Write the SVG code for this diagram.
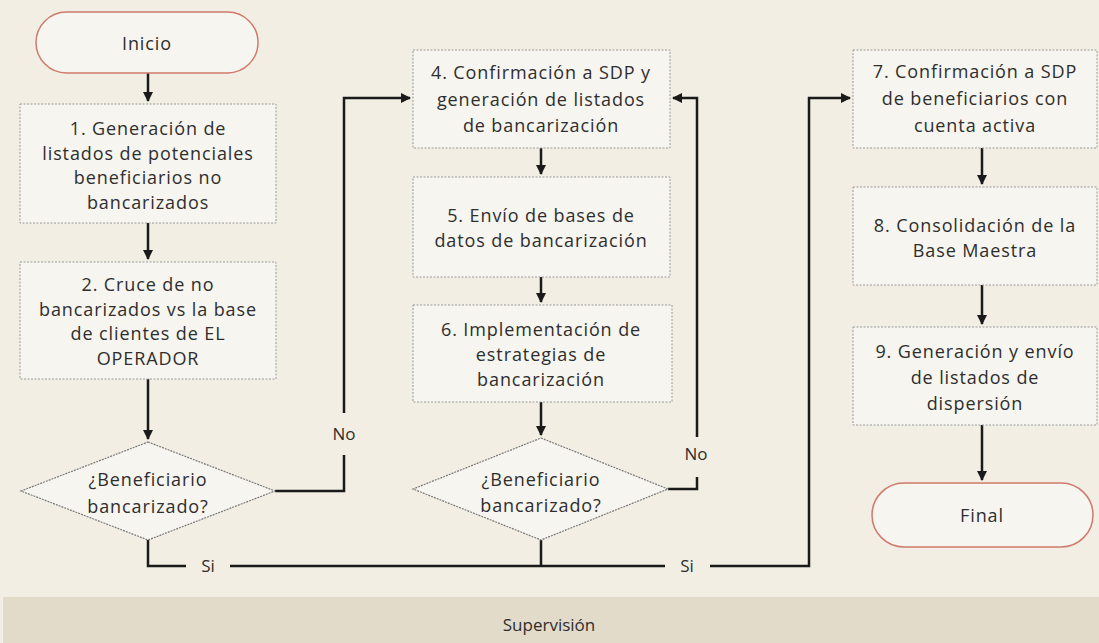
<svg xmlns="http://www.w3.org/2000/svg" width="1099" height="643" viewBox="0 0 1099 643">
<defs>
<style>
text{font-family:"Open Sans","Liberation Sans",sans-serif;font-size:18px;letter-spacing:0.9px;fill:#2e2e2e;text-anchor:middle;dominant-baseline:central}
.lbl{font-size:17px;letter-spacing:0}
.box{fill:#f7f5ef;stroke:#9a9a9a;stroke-width:1;stroke-dasharray:2 1.5}
.term{fill:#f7f5ef;stroke:#cf7a6c;stroke-width:1.5}
.dia{fill:#f7f5ef;stroke:#7a7a7a;stroke-width:1.2;stroke-dasharray:2 1}
.ln{fill:none;stroke:#1a1a1a;stroke-width:2.5}
</style>
<marker id="ah" viewBox="0 0 10 10" refX="9" refY="5" markerWidth="4" markerHeight="4" orient="auto-start-reverse">
<path d="M0,0 L10,5 L0,10 z" fill="#1a1a1a"/>
</marker>
</defs>
<rect width="1099" height="643" fill="#f2eee3"/>
<rect x="3" y="597" width="1096" height="46" fill="#e2dbc9"/>
<text class="lbl" x="549" y="624">Supervisión</text>

<g id="connectors">
<line class="ln" x1="148" y1="73" x2="148" y2="101" marker-end="url(#ah)"/>
<line class="ln" x1="148" y1="223" x2="148" y2="259" marker-end="url(#ah)"/>
<line class="ln" x1="148" y1="379" x2="148" y2="439" marker-end="url(#ah)"/>
<polyline class="ln" points="275,491 344,491 344,455"/>
<polyline class="ln" points="344,413 344,98 410,98" marker-end="url(#ah)"/>
<polyline class="ln" points="148,540 148,566 186,566"/>
<line class="ln" x1="230" y1="566" x2="665" y2="566"/>
<line class="ln" x1="541" y1="540" x2="541" y2="566"/>
<polyline class="ln" points="710,566 809,566 809,98 850,98" marker-end="url(#ah)"/>
<line class="ln" x1="541" y1="148" x2="541" y2="174" marker-end="url(#ah)"/>
<line class="ln" x1="541" y1="277" x2="541" y2="302" marker-end="url(#ah)"/>
<line class="ln" x1="541" y1="402" x2="541" y2="435" marker-end="url(#ah)"/>
<polyline class="ln" points="668,489 697,489 697,477"/>
<polyline class="ln" points="697,437 697,98 673,98" marker-end="url(#ah)"/>
<line class="ln" x1="982" y1="148" x2="982" y2="184" marker-end="url(#ah)"/>
<line class="ln" x1="982" y1="285" x2="982" y2="324" marker-end="url(#ah)"/>
<line class="ln" x1="982" y1="425" x2="982" y2="480" marker-end="url(#ah)"/>
<text class="lbl" x="344" y="433">No</text>
<text class="lbl" x="696" y="453">No</text>
<text class="lbl" x="208" y="565">Si</text>
<text class="lbl" x="687" y="565">Si</text>
</g>

<g id="inicio">
<rect class="term" x="36" y="12" width="222" height="61" rx="30.5"/>
<text x="147" y="43">Inicio</text>
</g>
<g id="n1">
<rect class="box" x="20" y="104" width="256" height="119"/>
<text x="148" y="128">1. Generación de</text>
<text x="148" y="152.5">listados de potenciales</text>
<text x="148" y="177">beneficiarios no</text>
<text x="148" y="201.5">bancarizados</text>
</g>
<g id="n2">
<rect class="box" x="20" y="262" width="256" height="117"/>
<text x="148" y="284">2. Cruce de no</text>
<text x="148" y="308.5">bancarizados vs la base</text>
<text x="148" y="333">de clientes de  EL</text>
<text x="148" y="357.5">OPERADOR</text>
</g>
<g id="d1">
<polygon class="dia" points="148,442 275,491 148,540 21,491"/>
<text x="148" y="479">¿Beneficiario</text>
<text x="148" y="506">bancarizado?</text>
</g>
<g id="n4">
<rect class="box" x="413" y="50" width="257" height="98"/>
<text x="541" y="72">4. Confirmación a SDP y</text>
<text x="541" y="98.5">generación de listados</text>
<text x="541" y="125">de bancarización</text>
</g>
<g id="n5">
<rect class="box" x="413" y="177" width="257" height="100"/>
<text x="541" y="215">5. Envío de bases de</text>
<text x="541" y="240">datos de bancarización</text>
</g>
<g id="n6">
<rect class="box" x="413" y="305" width="259" height="97"/>
<text x="541" y="329">6. Implementación de</text>
<text x="541" y="354">estrategias de</text>
<text x="541" y="379">bancarización</text>
</g>
<g id="d2">
<polygon class="dia" points="541,438 668,489 541,540 413,489"/>
<text x="541" y="479">¿Beneficiario</text>
<text x="541" y="505">bancarizado?</text>
</g>
<g id="n7">
<rect class="box" x="853" y="50" width="244" height="98"/>
<text x="975" y="71">7. Confirmación a SDP</text>
<text x="975" y="98">de beneficiarios con</text>
<text x="975" y="125">cuenta activa</text>
</g>
<g id="n8">
<rect class="box" x="853" y="187" width="244" height="98"/>
<text x="975" y="225">8. Consolidación de la</text>
<text x="975" y="250">Base Maestra</text>
</g>
<g id="n9">
<rect class="box" x="853" y="327" width="244" height="98"/>
<text x="975" y="351">9. Generación y envío</text>
<text x="975" y="377">de listados de</text>
<text x="975" y="403">dispersión</text>
</g>
<g id="final">
<rect class="term" x="872" y="483" width="221" height="64" rx="32"/>
<text x="982" y="515">Final</text>
</g>
</svg>
